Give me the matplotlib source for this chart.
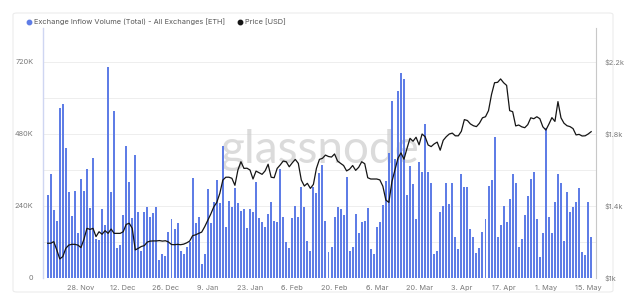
import matplotlib
matplotlib.use("Agg")
import matplotlib.pyplot as plt
from matplotlib.patches import FancyBboxPatch
from matplotlib.lines import Line2D
import pandas as pd

plt.rcParams['font.family'] = ['Inter', 'DejaVu Sans']

# ---------------- data ----------------
dates = pd.date_range('2022-11-17', '2023-05-16', freq='D')

inflow_k = [
    277, 345, 227, 191, 566, 580, 434, 286, 207, 290, 149, 330, 290, 362, 233, 401, 130, 127, 230, 177,
    702, 286, 558, 99, 111, 210, 441, 319, 199, 410,
    219, 91, 221, 238, 202, 216, 238, 60, 80, 74, 154, 196, 163, 182, 91, 80, 104, 120, 334, 182,
    202, 47, 79, 296, 184, 254, 327, 249, 440, 170, 258,
    238, 301, 251, 224, 230, 166, 230, 221, 321, 199, 188, 171, 213, 254, 191, 186, 362, 202, 121, 101,
    199, 241, 202, 302, 236, 124, 90, 302, 282, 351, 377,
    191, 88, 104, 202, 236, 230, 210, 336, 90, 102, 212, 151, 188, 190, 232, 96, 80, 169, 188, 243,
    324, 418, 590, 396, 623, 682, 662, 277, 373, 313, 197,
    388, 354, 512, 354, 316, 80, 90, 221, 241, 318, 247, 316, 138, 96, 347, 304, 302, 162, 138, 82,
    99, 152, 197, 307, 327, 471, 136, 177, 240, 186, 262,
    347, 318, 104, 129, 210, 274, 330, 354, 197, 69, 149, 499, 202, 151, 252, 346, 318, 124, 286, 221,
    238, 254, 301, 86, 77, 254, 138,
]
inflow = [v * 1000 for v in inflow_k]

price = [
    1193, 1193, 1202, 1156, 1106, 1119, 1165, 1183, 1187, 1187, 1183, 1169, 1215, 1276, 1270, 1276, 1230, 1257, 1243, 1263,
    1248, 1272, 1248, 1248, 1248, 1257, 1298, 1304, 1276, 1156,
    1165, 1175, 1180, 1200, 1205, 1206, 1206, 1208, 1205, 1207, 1200, 1186, 1185, 1187, 1185, 1188, 1195, 1205, 1235, 1240,
    1248, 1255, 1285, 1320, 1355, 1395, 1420, 1470, 1544, 1560,
    1560, 1554, 1515, 1600, 1646, 1609, 1610, 1600, 1550, 1594, 1585, 1576, 1595, 1632, 1560, 1557, 1609, 1628, 1650, 1646,
    1618, 1640, 1659, 1637, 1544, 1511, 1526, 1498, 1520, 1609, 1659,
    1665, 1683, 1675, 1672, 1689, 1650, 1637, 1625, 1595, 1605, 1625, 1598, 1615, 1646, 1635, 1557, 1550, 1550, 1550, 1545,
    1510, 1433, 1420, 1535, 1600, 1665, 1695, 1660, 1720, 1776, 1760,
    1782, 1740, 1800, 1785, 1739, 1730, 1745, 1755, 1710, 1765, 1785, 1800, 1805, 1790, 1790, 1815, 1880, 1875, 1856, 1846,
    1841, 1860, 1890, 1896, 1930, 2020, 2085, 2087, 2106, 2085, 2070,
    1930, 1924, 1845, 1850, 1840, 1835, 1852, 1890, 1885, 1896, 1885, 1840, 1822, 1855, 1891, 1870, 1980, 1890, 1860, 1846,
    1841, 1830, 1795, 1798, 1789, 1790, 1800, 1813,
]

xtick_dates = ['2022-11-28', '2022-12-12', '2022-12-26', '2023-01-09', '2023-01-23', '2023-02-06',
               '2023-02-20', '2023-03-06', '2023-03-20', '2023-04-03', '2023-04-17', '2023-05-01', '2023-05-15']
xtick_labels = ['28. Nov', '12. Dec', '26. Dec', '9. Jan', '23. Jan', '6. Feb', '20. Feb',
                '6. Mar', '20. Mar', '3. Apr', '17. Apr', '1. May', '15. May']
left_ticks = [0, 240000, 480000, 720000]
left_labels = ['0', '240K', '480K', '720K']
right_ticks = [1000, 1400, 1800, 2200]
right_labels = ['$1k', '$1.4k', '$1.8k', '$2.2k']
series_names = ['Exchange Inflow Volume (Total) - All Exchanges [ETH]', 'Price [USD]']

# ---------------- style ----------------
BAR_C = '#5f7de6'
LINE_C = '#151515'
TXT_C = '#7a7a7a'
W, H = 640, 300

fig = plt.figure(figsize=(6.4, 3.0), dpi=100)
fig.patch.set_facecolor('white')

# card border
card = FancyBboxPatch((13 / W, 8 / H), 600 / W, 279 / H, boxstyle='round,pad=0,rounding_size=0.006',
                      transform=fig.transFigure, facecolor='none', edgecolor='#ececec', lw=0.8, zorder=-10)
fig.patches.append(card)

ax = fig.add_axes([43 / W, 22 / H, 553 / W, 250 / H])
ax.set_facecolor('none')
ax2 = ax.twinx()

start = dates[0]
ax.set_xlim(start - pd.Timedelta(days=1.56), start + pd.Timedelta(days=181.6))
ax.set_ylim(0, 833333)
ax2.set_ylim(1000, 2389)

# grid lines every 120K
for g in range(120000, 840000, 120000):
    ax.axhline(g, color='#eeeeee', lw=0.7, zorder=0)

# watermark (behind bars)
ax.text(320 / W, 1 - 150 / H, 'glassnode', fontsize=33, color='#cccccc', alpha=0.7,
        ha='center', va='center', family=['Lato', 'DejaVu Sans'], zorder=1,
        transform=fig.transFigure)

ax.bar(dates, inflow, width=0.66, color=BAR_C, zorder=2, linewidth=0)
ax2.plot(dates, price, color=LINE_C, lw=0.9, zorder=3)

ax.set_xticks(pd.to_datetime(xtick_dates))
ax.set_xticklabels(xtick_labels)
ax.set_yticks(left_ticks)
ax.set_yticklabels(left_labels)
ax2.set_yticks(right_ticks)
ax2.set_yticklabels(right_labels)

ax.tick_params(axis='x', length=0, labelsize=5.3, colors=TXT_C, pad=5)
ax.tick_params(axis='y', length=0, labelsize=5.3, colors=TXT_C, pad=7)
ax2.tick_params(axis='y', length=0, labelsize=5.3, colors=TXT_C, pad=6)

for a in (ax, ax2):
    for s in ('top', 'bottom'):
        a.spines[s].set_visible(False)
ax.spines['left'].set_color('#cfd6f2')
ax.spines['left'].set_linewidth(1.0)
ax.spines['right'].set_visible(False)
ax2.spines['left'].set_visible(False)
ax2.spines['right'].set_color('#c8c8c8')
ax2.spines['right'].set_linewidth(0.8)

handles = [Line2D([], [], marker='o', linestyle='None', color=BAR_C, markersize=3.2),
           Line2D([], [], marker='o', linestyle='None', color=LINE_C, markersize=3.2)]
fig.legend(handles, series_names, loc='center left', bbox_to_anchor=(25 / W, 1 - 22 / H), ncol=2,
           frameon=False, fontsize=5.3, handletextpad=0.2, columnspacing=1.5, handlelength=1.0,
           labelcolor='#555555', borderaxespad=0, borderpad=0)

fig.savefig('out.png', dpi=100, facecolor='white')
